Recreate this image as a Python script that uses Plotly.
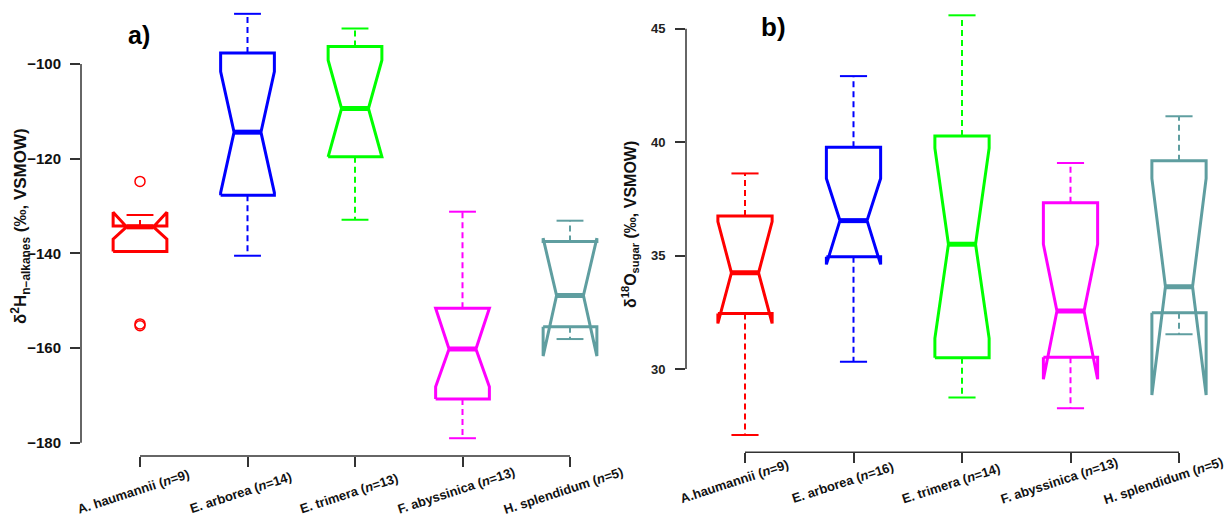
import plotly.graph_objects as go

# ---- data -------------------------------------------------------------
species_a = ["A. haumannii (<i>n</i>=9)", "E. arborea (<i>n</i>=14)", "E. trimera (<i>n</i>=13)",
             "F. abyssinica (<i>n</i>=13)", "H. splendidum (<i>n</i>=5)"]
species_b = ["A.haumannii (<i>n</i>=9)", "E. arborea (<i>n</i>=16)", "E. trimera (<i>n</i>=14)",
             "F. abyssinica (<i>n</i>=13)", "H. splendidum (<i>n</i>=5)"]
colors = ["#FF0000", "#0000FF", "#00FF00", "#FF00FF", "#5F9EA0"]

# panel a: delta2H n-alkanes
lo_whisk_a = [-139.6, -140.5, -132.9, -179.05, -158.1]
q1_a = [-139.6, -127.7, -119.6, -170.75, -155.5]
med_a = [-134.4, -114.4, -109.4, -160.2, -148.9]
q3_a = [-134.2, -97.7, -96.3, -151.6, -137.5]
hi_whisk_a = [-131.9, -89.4, -92.5, -131.2, -133.1]
notch_lo_a = [-137.0, -127.2, -119.6, -168.2, -161.7]
notch_hi_a = [-131.3, -101.6, -99.2, -151.6, -136.8]
outlier_grp_a = [1, 1, 1]
outlier_val_a = [-124.8, -154.9, -155.3]

# panel b: delta18O sugar
lo_whisk_b = [27.09, 30.32, 28.74, 28.27, 31.53]
q1_b = [32.45, 34.95, 30.50, 30.52, 32.48]
med_b = [34.24, 36.54, 35.50, 32.56, 33.63]
q3_b = [36.74, 39.77, 40.27, 37.33, 39.18]
hi_whisk_b = [38.62, 42.91, 45.59, 39.08, 41.14]
notch_lo_b = [32.01, 34.61, 31.35, 29.55, 28.85]
notch_hi_b = [36.50, 38.40, 39.73, 35.50, 38.40]

yticks_a = [-100, -120, -140, -160, -180]
yticks_b = [30, 35, 40, 45]
groups = [1, 2, 3, 4, 5]

W, H = 1228, 521
HALF = 0.25        # half box width (x units)
NOTCH = 0.5        # notch fraction
STAPLE = 0.5       # staple width relative to box
AXCOL = "#333333"
FONT = "Arial, Liberation Sans, sans-serif"

fig = go.Figure()


def add_boxes(xa, ya, lo_w, q1, med, q3, hi_w, nlo, nhi):
    for i in range(len(med)):
        c = groups[i]
        col = colors[i]
        px = [c - HALF, c - HALF, c - HALF * NOTCH, c - HALF, c - HALF,
              c + HALF, c + HALF, c + HALF * NOTCH, c + HALF, c + HALF, c - HALF]
        py = [q1[i], nlo[i], med[i], nhi[i], q3[i],
              q3[i], nhi[i], med[i], nlo[i], q1[i], q1[i]]
        # whiskers
        fig.add_trace(go.Scatter(x=[c, c, None, c, c], y=[q3[i], hi_w[i], None, q1[i], lo_w[i]],
                                 mode="lines", xaxis=xa, yaxis=ya, showlegend=False,
                                 line=dict(color=col, width=2, dash="6px,4px"), hoverinfo="skip"))
        # staples
        s = HALF * STAPLE
        fig.add_trace(go.Scatter(x=[c - s, c + s, None, c - s, c + s],
                                 y=[hi_w[i], hi_w[i], None, lo_w[i], lo_w[i]],
                                 mode="lines", xaxis=xa, yaxis=ya, showlegend=False,
                                 line=dict(color=col, width=2), hoverinfo="skip"))
        # notched box outline
        fig.add_trace(go.Scatter(x=px, y=py, mode="lines", xaxis=xa, yaxis=ya, showlegend=False,
                                 line=dict(color=col, width=3), hoverinfo="skip"))
        # median
        fig.add_trace(go.Scatter(x=[c - HALF * NOTCH, c + HALF * NOTCH], y=[med[i], med[i]],
                                 mode="lines", xaxis=xa, yaxis=ya, showlegend=False,
                                 line=dict(color=col, width=5), hoverinfo="skip"))


add_boxes("x", "y", lo_whisk_a, q1_a, med_a, q3_a, hi_whisk_a, notch_lo_a, notch_hi_a)
add_boxes("x2", "y2", lo_whisk_b, q1_b, med_b, q3_b, hi_whisk_b, notch_lo_b, notch_hi_b)

fig.add_trace(go.Scatter(x=outlier_grp_a, y=outlier_val_a, mode="markers", showlegend=False,
                         marker=dict(symbol="circle-open", size=10, color=colors[0],
                                     line=dict(width=1.5, color=colors[0])),
                         xaxis="x", yaxis="y", hoverinfo="skip"))


def px2fx(p):
    return p / W


def py2fy(p):
    return 1 - p / H


# axis geometry (pixels)
xa_left, xa_right = 81, 605
ya_bottom = 456
xb_left, xb_right = 686, 1225
yb_bottom = 452.3
step_a, step_b = 107.5, 108.5
cat_a0, cat_b0 = 140, 745

common_y = dict(showgrid=False, zeroline=False, showline=False, ticks="outside", ticklen=10,
                tickwidth=1.5, tickcolor=AXCOL)
common_x = dict(showgrid=False, zeroline=False, showline=False, ticks="outside", ticklen=10,
                tickwidth=1.5, tickcolor=AXCOL, showticklabels=False,
                tickmode="array", tickvals=groups)

fig.update_layout(
    width=W, height=H, autosize=False,
    margin=dict(l=0, r=0, t=0, b=0),
    paper_bgcolor="white", plot_bgcolor="white",
    xaxis=dict(domain=[px2fx(xa_left), px2fx(xa_right)], anchor="y",
               range=[1 - (cat_a0 - xa_left) / step_a, 1 + (xa_right - cat_a0) / step_a], **common_x),
    yaxis=dict(domain=[py2fy(ya_bottom), 1], anchor="x",
               range=[-100 - (ya_bottom - 64) / 4.734, -100 + 64 / 4.734],
               tickmode="array", tickvals=yticks_a, ticklabelstandoff=6,
               tickfont=dict(family=FONT, size=15, color="#111111", weight="bold"), **common_y),
    xaxis2=dict(domain=[px2fx(xb_left), px2fx(xb_right)], anchor="y2",
                range=[1 - (cat_b0 - xb_left) / step_b, 1 + (xb_right - cat_b0) / step_b], **common_x),
    yaxis2=dict(domain=[py2fy(yb_bottom), 1], anchor="x2",
                range=[30 - (yb_bottom - 369) / 22.687, 30 + 369 / 22.687],
                tickmode="array", tickvals=yticks_b, ticklabelstandoff=7,
                tickfont=dict(family=FONT, size=13, color="#222222", weight="bold"), **common_y),
)

# R-style axis lines spanning first to last tick
fig.add_shape(type="line", xref="x domain", yref="y", x0=0, x1=0, y0=-180, y1=-100,
              line=dict(color=AXCOL, width=1.5))
fig.add_shape(type="line", xref="x", yref="y domain", x0=1, x1=5, y0=0, y1=0,
              line=dict(color=AXCOL, width=1.5))
fig.add_shape(type="line", xref="x2 domain", yref="y2", x0=0, x1=0, y0=30, y1=45,
              line=dict(color=AXCOL, width=1.5))
fig.add_shape(type="line", xref="x2", yref="y2 domain", x0=1, x1=5, y0=0, y1=0,
              line=dict(color=AXCOL, width=1.5))

# slanted category labels (auto anchoring: rotated box sits above the given y)
LABEL_ANGLE = -18
label_shift_b = [-0.1, -0.1, -0.1, -0.1, -0.14]
for i, lab in enumerate(species_a):
    fig.add_annotation(text=lab, xref="x", yref="paper", x=groups[i] - 0.06, y=py2fy(519),
                       textangle=LABEL_ANGLE, showarrow=False,
                       font=dict(family=FONT, size=13, color="#111111", weight="bold"))
for i, lab in enumerate(species_b):
    fig.add_annotation(text=lab, xref="x2", yref="paper", x=groups[i] + label_shift_b[i], y=py2fy(509),
                       textangle=LABEL_ANGLE, showarrow=False,
                       font=dict(family=FONT, size=13, color="#111111", weight="bold"))

# axis titles
fig.add_annotation(text="δ<sup>2</sup>H<sub>n−alkanes</sub> (‰, VSMOW)", xref="paper", yref="paper",
                   x=px2fx(20), y=py2fy(226), textangle=-90, showarrow=False,
                   xanchor="center", yanchor="middle",
                   font=dict(family=FONT, size=17, color="#111111", weight="bold"))
fig.add_annotation(text="δ<sup>18</sup>O<sub>sugar</sub> (‰, VSMOW)", xref="paper", yref="paper",
                   x=px2fx(630), y=py2fy(225), textangle=-90, showarrow=False,
                   xanchor="center", yanchor="middle",
                   font=dict(family=FONT, size=16, color="#111111", weight="bold"))

# panel letters
fig.add_annotation(text="a)", xref="paper", yref="paper", x=px2fx(139), y=py2fy(35),
                   showarrow=False, xanchor="center", yanchor="middle",
                   font=dict(family=FONT, size=25, color="#000000", weight="bold"))
fig.add_annotation(text="b)", xref="paper", yref="paper", x=px2fx(774), y=py2fy(27),
                   showarrow=False, xanchor="center", yanchor="middle",
                   font=dict(family=FONT, size=26, color="#000000", weight="bold"))

fig.write_html("out.html")
